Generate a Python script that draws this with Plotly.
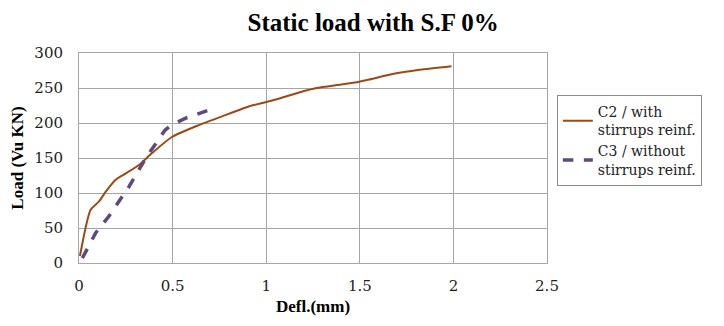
import plotly.graph_objects as go

c2_x = [0.005, 0.062, 0.107, 0.143, 0.196, 0.25, 0.32, 0.39, 0.496, 0.64, 0.80, 0.91, 1.0, 1.07, 1.18, 1.27, 1.40, 1.497, 1.55, 1.675, 1.82, 1.99]
c2_y = [10, 76, 88, 102, 119, 128, 140, 157, 180, 197, 213, 224, 230, 235, 244, 250, 255, 259, 262, 270, 276, 281]
c3_x = [0.018, 0.089, 0.16, 0.267, 0.357, 0.46, 0.5, 0.57, 0.72]
c3_y = [7, 43, 67, 109, 150, 190, 198, 207, 221]

bold_font = "Liberation Serif"
reg_font = "DejaVu Serif"

fig = go.Figure()
fig.add_trace(go.Scatter(x=c2_x, y=c2_y, mode="lines", name="C2 / with<br>stirrups reinf.",
                         line=dict(color="#9C4A14", width=2, shape="spline", smoothing=0.6)))
fig.add_trace(go.Scatter(x=c3_x, y=c3_y, mode="lines", name="C3 / without<br>stirrups reinf.",
                         line=dict(color="#5F4A7E", width=3.5, dash="dash")))

fig.update_layout(
    width=716, height=318,
    margin=dict(l=71, r=177, t=45, b=63),
    paper_bgcolor="white", plot_bgcolor="white",
    font=dict(family=reg_font, size=15, color="#222"),
    title=dict(text="<b>Static load with S.F 0%</b>", x=0.51, xref="container", xanchor="center",
               y=1, yref="container", yanchor="top", pad=dict(t=5),
               font=dict(size=25, color="#000", family=bold_font)),
    xaxis=dict(range=[0, 2.5], dtick=0.5, showgrid=True, gridcolor="#A6A6A6", gridwidth=1,
               showline=True, linecolor="#A6A6A6", mirror=True, zeroline=False, automargin=False,
               tickfont=dict(size=15, family=reg_font, color="#222"), ticks="", ticklabelstandoff=9,
               title=dict(text="<b>Defl.(mm)</b>", font=dict(size=17, family=bold_font, color="#000"), standoff=6)),
    yaxis=dict(range=[0, 300], dtick=50, showgrid=True, gridcolor="#A6A6A6", gridwidth=1,
               showline=True, linecolor="#A6A6A6", mirror=True, zeroline=False, automargin=False,
               tickfont=dict(size=15, family=reg_font, color="#222"), ticks="", ticklabelstandoff=12,
               title=dict(text="<b>Load (Vu KN)</b>", font=dict(size=17, family=bold_font, color="#000"), standoff=14)),
    legend=dict(x=1.021, y=0.8, xanchor="left", yanchor="top", bordercolor="#8C8C8C", borderwidth=1,
                font=dict(size=14, family=reg_font, color="#222"), tracegroupgap=4),
    showlegend=True,
)

fig.write_html("out.html")
